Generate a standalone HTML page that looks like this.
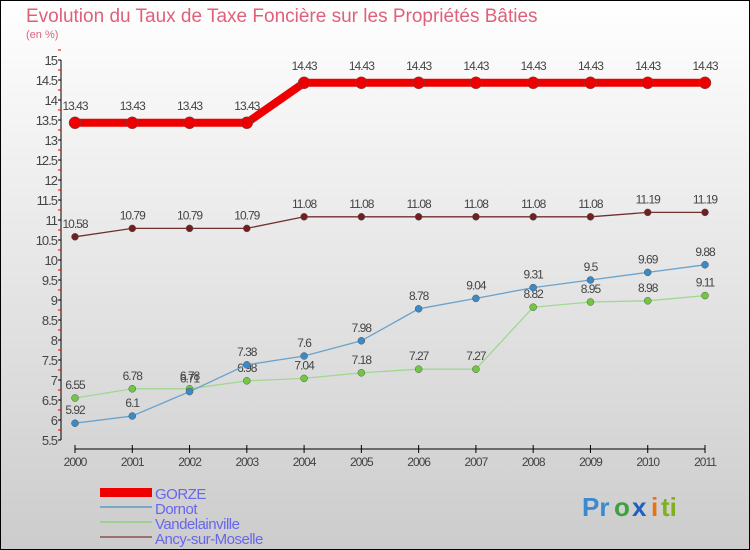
<!DOCTYPE html>
<html><head><meta charset="utf-8"><style>
body{margin:0;}
#c{width:750px;height:550px;position:relative;overflow:hidden;font-family:"Liberation Sans",sans-serif;}
</style></head><body>
<div id="c">
<svg id="s" width="750" height="550" xmlns="http://www.w3.org/2000/svg">
<defs><linearGradient id="bg" x1="0" y1="0" x2="0" y2="1"><stop offset="0" stop-color="#ffffff"/><stop offset="1" stop-color="#cccccc"/></linearGradient></defs>
<rect x="0.5" y="0.5" width="749" height="549" fill="url(#bg)" stroke="#000"/>
<text x="26" y="22" font-size="19" fill="#e0607a">Evolution du Taux de Taxe Foncière sur les Propriétés Bâties</text>
<text x="26" y="38" font-size="11" fill="#e0607a">(en %)</text>
<g id="axes"></g><g id="series"></g>
<g>
<rect x="100" y="488" width="52" height="9" fill="#ee0000"/>
<text x="155" y="499" font-size="15" fill="#6666ee" letter-spacing="-0.5">GORZE</text>
<rect x="100" y="506" width="52" height="2" fill="#7aa6c8"/>
<text x="155" y="514" font-size="15" fill="#6666ee" letter-spacing="-0.5">Dornot</text>
<rect x="100" y="521" width="52" height="2" fill="#a0d090"/>
<text x="155" y="529" font-size="15" fill="#6666ee" letter-spacing="-0.5">Vandelainville</text>
<rect x="100" y="536" width="52" height="2" fill="#9a7070"/>
<text x="155" y="544" font-size="15" fill="#6666ee" letter-spacing="-0.5">Ancy-sur-Moselle</text>
</g>
<g font-size="26" font-weight="bold">
<text x="582" y="516" fill="#3a8ad0">Pr</text><text x="614" y="516" fill="#40a040">o</text><text x="632" y="516" fill="#2060c0">x</text><text x="651" y="516" fill="#f07010">i</text><text x="661" y="516" fill="#80b020">ti</text>
</g>
</svg></div>
<script>
const years=["2000","2001","2002","2003","2004","2005","2006","2007","2008","2009","2010","2011"];
const gorze=[13.43,13.43,13.43,13.43,14.43,14.43,14.43,14.43,14.43,14.43,14.43,14.43];
const dornot=[5.92,6.1,6.71,7.38,7.6,7.98,8.78,9.04,9.31,9.5,9.69,9.88];
const vandel=[6.55,6.78,6.78,6.98,7.04,7.18,7.27,7.27,8.82,8.95,8.98,9.11];
const ancy=[10.58,10.79,10.79,10.79,11.08,11.08,11.08,11.08,11.08,11.08,11.19,11.19];
const yTicks=[5.5,6,6.5,7,7.5,8,8.5,9,9.5,10,10.5,11,11.5,12,12.5,13,13.5,14,14.5,15];
const NS="http://www.w3.org/2000/svg";
const X=i=>75+i*(630/11);
const Y=v=>440-(v-5.5)*40;
function mk(t,a,p){const e=document.createElementNS(NS,t);for(const k in a)e.setAttribute(k,a[k]);p.appendChild(e);return e;}
const ax=document.getElementById('axes');
let l=mk('line',{x1:61,y1:60,x2:61,y2:440,stroke:'#000'},ax);


yTicks.forEach(v=>{
 mk('line',{x1:58,y1:Y(v),x2:61,y2:Y(v),stroke:'#000'},ax);
 mk('line',{x1:58,y1:Y(v+0.25),x2:61,y2:Y(v+0.25),stroke:'#e00'},ax);
 const t=mk('text',{x:57,y:Y(v)+5,'font-size':13,fill:'#444','text-anchor':'end','letter-spacing':'-1'},ax);
 t.textContent=v;
 
 
});
l=mk('line',{x1:75,y1:449,x2:705,y2:449,stroke:'#000'},ax);


years.forEach((y,i)=>{
 mk('line',{x1:X(i),y1:445,x2:X(i),y2:453,stroke:'#000'},ax);
 const t=mk('text',{x:X(i),y:466,'font-size':12,fill:'#444','text-anchor':'middle','letter-spacing':'-1'},ax);
 t.textContent=y;
 
 
});
const sg=document.getElementById('series');
function series(d,name,col,w,r,dot,off){
 const g=mk('g',{},sg);
 
 
 const p=mk('polyline',{points:d.map((v,i)=>X(i)+','+Y(v)).join(' '),fill:'none',stroke:col,'stroke-width':w},g);
 
 
 d.forEach((v,i)=>{
  const c=mk('circle',{cx:X(i),cy:Y(v),r:r,fill:dot,stroke:'#555','stroke-width':0.5},g);
  
  
  const t=mk('text',{x:X(i),y:Y(v)-off,'font-size':12,fill:'#444','text-anchor':'middle','letter-spacing':'-1'},g);
  t.textContent=v;
  
  
 });
}
series(ancy,'ancy','#703030',1.3,3.5,'#702020',9);
series(vandel,'vandelainville','#a0d890',1.3,3.5,'#70c840',9);
series(dornot,'dornot','#6aa2cc',1.3,3.5,'#3a8ac8',9);
series(gorze,'gorze','#ee0000',8,6,'#ee0000',13);
</script>
</body></html>
